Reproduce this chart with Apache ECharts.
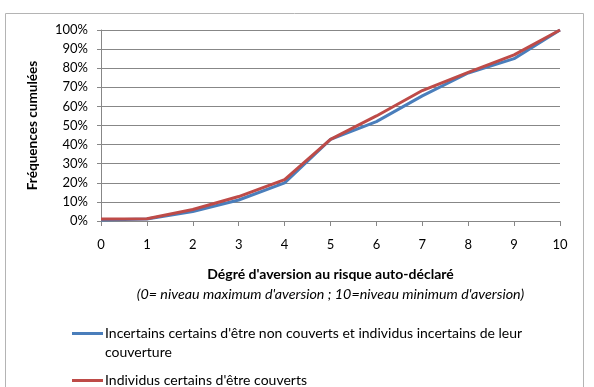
<!DOCTYPE html>
<html>
<head>
<meta charset="utf-8">
<script src="https://cdn.jsdelivr.net/npm/echarts@6/dist/echarts.min.js"></script>
<style>
    html, body {margin: 0; padding: 0; background: #fff;}
    #chart {width: 594px; height: 387px;}
</style>
</head>
<body>
<div id="chart"></div>
<script>
    // degré d'aversion 0..10
    var niveaux = [0, 1, 2, 3, 4, 5, 6, 7, 8, 9, 10];
    // fréquences cumulées (%)
    var incertains = [0.5, 1, 5, 11, 20, 42.7, 52, 65.5, 77.5, 85, 100];
    var couverts = [1, 1.2, 6, 12.8, 21.7, 42.7, 55, 68.3, 77.8, 87, 100];
    var nomIncertains = "Incertains certains d'être non couverts et individus incertains de leur\ncouverture";
    var nomCouverts = "Individus certains d'être couverts";

    var font = "Lato";
    var chart = echarts.init(document.getElementById("chart"));

    function pairs(vals) {
        var out = [];
        for (var i = 0; i < niveaux.length; i++) {
            out.push([niveaux[i], vals[i]]);
        }
        return out;
    }

    chart.setOption({
        animation: false,
        textStyle: {fontFamily: font},
        graphic: [{
            type: "rect",
            shape: {x: 5.5, y: 13.5, width: 578, height: 400},
            style: {fill: "none", stroke: "#b4b4b4", lineWidth: 1}
        }],
        grid: {left: 101, right: 34, top: 30, bottom: 166},
        xAxis: {
            type: "value", min: 0, max: 10, interval: 1,
            axisLine: {lineStyle: {color: "#878787"}},
            axisTick: {show: true, length: 5, lineStyle: {color: "#878787"}},
            splitLine: {show: false},
            axisLabel: {color: "#000", fontSize: 13, margin: 17, fontFamily: font},
            name: "{a|Dégré d'aversion au risque auto-déclaré}\n{b|(0= niveau maximum d'aversion ; 10=niveau minimum d'aversion)}",
            nameLocation: "middle",
            nameGap: 43,
            nameTextStyle: {
                rich: {
                    a: {fontSize: 14, fontWeight: "bold", color: "#000", lineHeight: 20, fontFamily: font},
                    b: {fontSize: 14.3, fontStyle: "italic", color: "#000", lineHeight: 20, fontFamily: font}
                }
            }
        },
        yAxis: {
            type: "value", min: 0, max: 100, interval: 10,
            axisLine: {show: true, lineStyle: {color: "#878787"}},
            axisTick: {show: true, length: 4, lineStyle: {color: "#878787"}},
            splitLine: {lineStyle: {color: "#878787"}},
            axisLabel: {formatter: "{value}%", color: "#000", fontSize: 13, margin: 13, fontFamily: font},
            name: "Fréquences cumulées",
            nameLocation: "middle",
            nameGap: 61,
            nameTextStyle: {fontSize: 13.6, fontWeight: "bold", color: "#000", fontFamily: font}
        },
        legend: [{
            data: [nomIncertains],
            orient: "vertical",
            left: 72, top: 305, padding: 0,
            icon: "rect", itemWidth: 31, itemHeight: 3, itemGap: 0,
            formatter: function (n) { return "\n" + n; },
            textStyle: {fontSize: 14, color: "#000", lineHeight: 19, padding: [0, 0, 0, -3], fontFamily: font}
        }, {
            data: [nomCouverts],
            orient: "vertical",
            left: 72, top: 371, padding: 0,
            icon: "rect", itemWidth: 31, itemHeight: 3,
            textStyle: {fontSize: 14, color: "#000", lineHeight: 19, padding: [0, 0, 0, -3], fontFamily: font}
        }],
        series: [{
            name: nomIncertains, type: "line", data: pairs(incertains),
            symbol: "none", lineStyle: {color: "#4a7ebb", width: 3}, itemStyle: {color: "#4a7ebb"}
        }, {
            name: nomCouverts, type: "line", data: pairs(couverts),
            symbol: "none", lineStyle: {color: "#be4b48", width: 3}, itemStyle: {color: "#be4b48"}
        }]
    });
</script>
</body>
</html>
